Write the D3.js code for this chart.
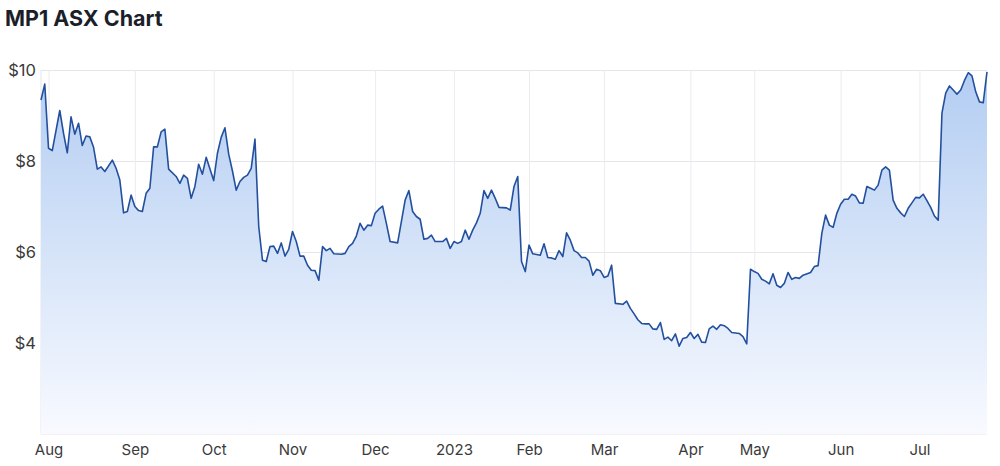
<!DOCTYPE html>
<html>
<head>
<meta charset="utf-8">
<script src="https://cdn.jsdelivr.net/npm/d3@7"></script>
<style>
  body { margin: 0; background: #fff; }
  svg text { font-family: Inter, "Open Sans", sans-serif; }
</style>
</head>
<body>
<div id="chart"></div>
<script>
// closing price per trading day (day index, price)
var prices = [
  [0, 9.34], [1, 9.69], [2, 8.28], [3, 8.23], [5, 9.11], [6, 8.61], [7, 8.18], [8, 8.97],
  [9, 8.59], [10, 8.83], [11, 8.34], [12, 8.55], [13, 8.53], [14, 8.30], [15, 7.82], [16, 7.87],
  [17, 7.77], [19, 8.02], [20, 7.84], [21, 7.58], [22, 6.86], [23, 6.89], [24, 7.25], [25, 7.00],
  [26, 6.91], [27, 6.89], [28, 7.29], [29, 7.40], [30, 8.31], [31, 8.31], [32, 8.64], [33, 8.70],
  [34, 7.82], [36, 7.66], [37, 7.51], [38, 7.69], [39, 7.62], [40, 7.18], [41, 7.44], [42, 7.93],
  [43, 7.71], [44, 8.08], [46, 7.57], [47, 8.17], [48, 8.52], [49, 8.73], [50, 8.15], [51, 7.78],
  [52, 7.36], [53, 7.55], [54, 7.64], [55, 7.69], [56, 7.84], [57, 8.48], [58, 6.56], [59, 5.82],
  [60, 5.79], [61, 6.12], [62, 6.13], [63, 5.97], [64, 6.20], [65, 5.91], [66, 6.06], [67, 6.45],
  [68, 6.23], [69, 5.91], [70, 5.91], [71, 5.71], [72, 5.60], [73, 5.59], [74, 5.38], [75, 6.12],
  [76, 6.03], [77, 6.08], [78, 5.96], [80, 5.95], [81, 5.97], [82, 6.12], [83, 6.19], [84, 6.35],
  [85, 6.63], [86, 6.48], [87, 6.59], [88, 6.58], [89, 6.85], [90, 6.94], [91, 7.01], [92, 6.63],
  [93, 6.23], [95, 6.20], [96, 6.67], [97, 7.14], [98, 7.35], [99, 6.89], [100, 6.78], [101, 6.72],
  [102, 6.28], [103, 6.30], [104, 6.37], [105, 6.23], [107, 6.23], [108, 6.30], [109, 6.08], [110, 6.23],
  [111, 6.19], [112, 6.23], [113, 6.48], [114, 6.28], [115, 6.48], [116, 6.64], [117, 6.85], [118, 7.35],
  [119, 7.18], [120, 7.36], [121, 7.18], [122, 6.98], [124, 6.97], [125, 6.92], [126, 7.44], [127, 7.66],
  [128, 5.79], [129, 5.57], [130, 6.15], [131, 5.96], [133, 5.93], [134, 6.18], [135, 5.88], [136, 5.87],
  [137, 5.84], [138, 6.03], [139, 5.90], [140, 6.42], [141, 6.26], [142, 6.03], [143, 5.98], [144, 5.88],
  [145, 5.88], [146, 5.80], [147, 5.49], [148, 5.62], [149, 5.59], [150, 5.44], [151, 5.47], [152, 5.71],
  [153, 4.87], [155, 4.85], [156, 4.92], [157, 4.76], [158, 4.64], [159, 4.51], [160, 4.43], [161, 4.42],
  [162, 4.42], [163, 4.31], [164, 4.30], [165, 4.45], [166, 4.08], [167, 4.13], [168, 4.05], [169, 4.20],
  [170, 3.93], [171, 4.10], [172, 4.12], [173, 4.23], [174, 4.10], [175, 4.19], [176, 4.02], [177, 4.01],
  [178, 4.31], [179, 4.37], [180, 4.30], [181, 4.40], [182, 4.38], [183, 4.32], [184, 4.23], [186, 4.21],
  [187, 4.14], [188, 3.98], [189, 5.62], [190, 5.57], [191, 5.53], [192, 5.40], [193, 5.36], [194, 5.30],
  [195, 5.52], [196, 5.27], [197, 5.22], [198, 5.31], [199, 5.55], [200, 5.40], [201, 5.44], [202, 5.42],
  [203, 5.49], [205, 5.55], [206, 5.68], [207, 5.70], [208, 6.41], [209, 6.81], [210, 6.59], [211, 6.54],
  [212, 6.85], [213, 7.05], [214, 7.16], [215, 7.16], [216, 7.27], [217, 7.23], [218, 7.08], [219, 7.07],
  [220, 7.44], [221, 7.40], [222, 7.36], [223, 7.47], [224, 7.80], [225, 7.87], [226, 7.80], [227, 7.14],
  [228, 6.96], [229, 6.86], [230, 6.78], [231, 6.96], [232, 7.08], [233, 7.20], [234, 7.19], [235, 7.27],
  [236, 7.13], [237, 6.98], [238, 6.79], [239, 6.70], [240, 9.05], [241, 9.49], [242, 9.65], [243, 9.56],
  [244, 9.47], [245, 9.56], [246, 9.77], [247, 9.94], [248, 9.87], [249, 9.52], [250, 9.30], [251, 9.28],
  [252, 9.96]
];

// first trading day of each month
var monthLabels = ["Aug", "Sep", "Oct", "Nov", "Dec", "2023", "Feb", "Mar", "Apr", "May", "Jun", "Jul"];
var monthDays = [2, 25, 46, 67, 89, 110, 130, 150, 173, 190, 213, 234];

var priceTicks = [4, 6, 8, 10];

var W = 1000, H = 466;
var margin = { top: 70, right: 13, bottom: 32, left: 41 };

var svg = d3.select("#chart")
  .append("svg")
  .attr("width", W)
  .attr("height", H);

var x = d3.scaleLinear()
  .domain([0, 252])
  .range([margin.left, W - margin.right]);

var y = d3.scaleLinear()
  .domain([2, 10])
  .range([H - margin.bottom, margin.top]);

// title
svg.append("text")
  .attr("x", 5)
  .attr("y", 26)
  .attr("font-size", 21.5)
  .attr("font-weight", 700)
  .attr("fill", "#1c1f2a")
  .text("MP1 ASX Chart");

// gradient for the area
var grad = svg.append("defs").append("linearGradient")
  .attr("id", "fillGrad")
  .attr("x1", 0).attr("y1", 0).attr("x2", 0).attr("y2", 1);
grad.append("stop").attr("offset", "0%").attr("stop-color", "#b3cdf2");
grad.append("stop").attr("offset", "100%").attr("stop-color", "#f8faff");

// grid
svg.append("g")
  .attr("transform", "translate(" + margin.left + ",0)")
  .call(d3.axisLeft(y).tickValues(priceTicks).tickSize(-(W - margin.left - margin.right)).tickFormat(""))
  .call(function (g) { g.select(".domain").remove(); })
  .selectAll("line").attr("stroke", "#e6e6ea");

svg.append("g")
  .attr("transform", "translate(0," + (H - margin.bottom) + ")")
  .call(d3.axisBottom(x).tickValues(monthDays).tickSize(-(H - margin.top - margin.bottom)).tickFormat(""))
  .call(function (g) { g.select(".domain").remove(); })
  .selectAll("line").attr("stroke", "#ececf0");

// plot edges
svg.append("line")
  .attr("x1", margin.left).attr("x2", margin.left)
  .attr("y1", margin.top).attr("y2", H - margin.bottom)
  .attr("stroke", "#e6e6ea");
svg.append("line")
  .attr("x1", margin.left).attr("x2", W - margin.right)
  .attr("y1", H - margin.bottom).attr("y2", H - margin.bottom)
  .attr("stroke", "#e6e6ea");

// area + line
var area = d3.area()
  .x(function (d) { return x(d[0]); })
  .y0(y(2))
  .y1(function (d) { return y(d[1]); });

var line = d3.line()
  .x(function (d) { return x(d[0]); })
  .y(function (d) { return y(d[1]); });

svg.append("path")
  .datum(prices)
  .attr("d", area)
  .attr("fill", "url(#fillGrad)");

svg.append("path")
  .datum(prices)
  .attr("d", line)
  .attr("fill", "none")
  .attr("stroke", "#23509e")
  .attr("stroke-width", 1.6)
  .attr("stroke-linejoin", "round");

// y labels
svg.append("g")
  .attr("transform", "translate(" + margin.left + ",0)")
  .call(d3.axisLeft(y).tickValues(priceTicks).tickSize(0).tickPadding(5).tickFormat(function (d) { return "$" + d; }))
  .call(function (g) { g.select(".domain").remove(); })
  .selectAll("text")
  .attr("font-size", 16.5)
  .attr("fill", "#3a3a3a")
  .style("font-family", "Inter, sans-serif");

// x labels
svg.append("g")
  .attr("transform", "translate(0," + (H - margin.bottom) + ")")
  .call(d3.axisBottom(x).tickValues(monthDays).tickSize(0).tickPadding(10)
    .tickFormat(function (d, i) { return monthLabels[i]; }))
  .call(function (g) { g.select(".domain").remove(); })
  .selectAll("text")
  .attr("font-size", 15)
  .attr("fill", "#3a3a3a")
  .style("font-family", "Inter, sans-serif");
</script>
</body>
</html>
